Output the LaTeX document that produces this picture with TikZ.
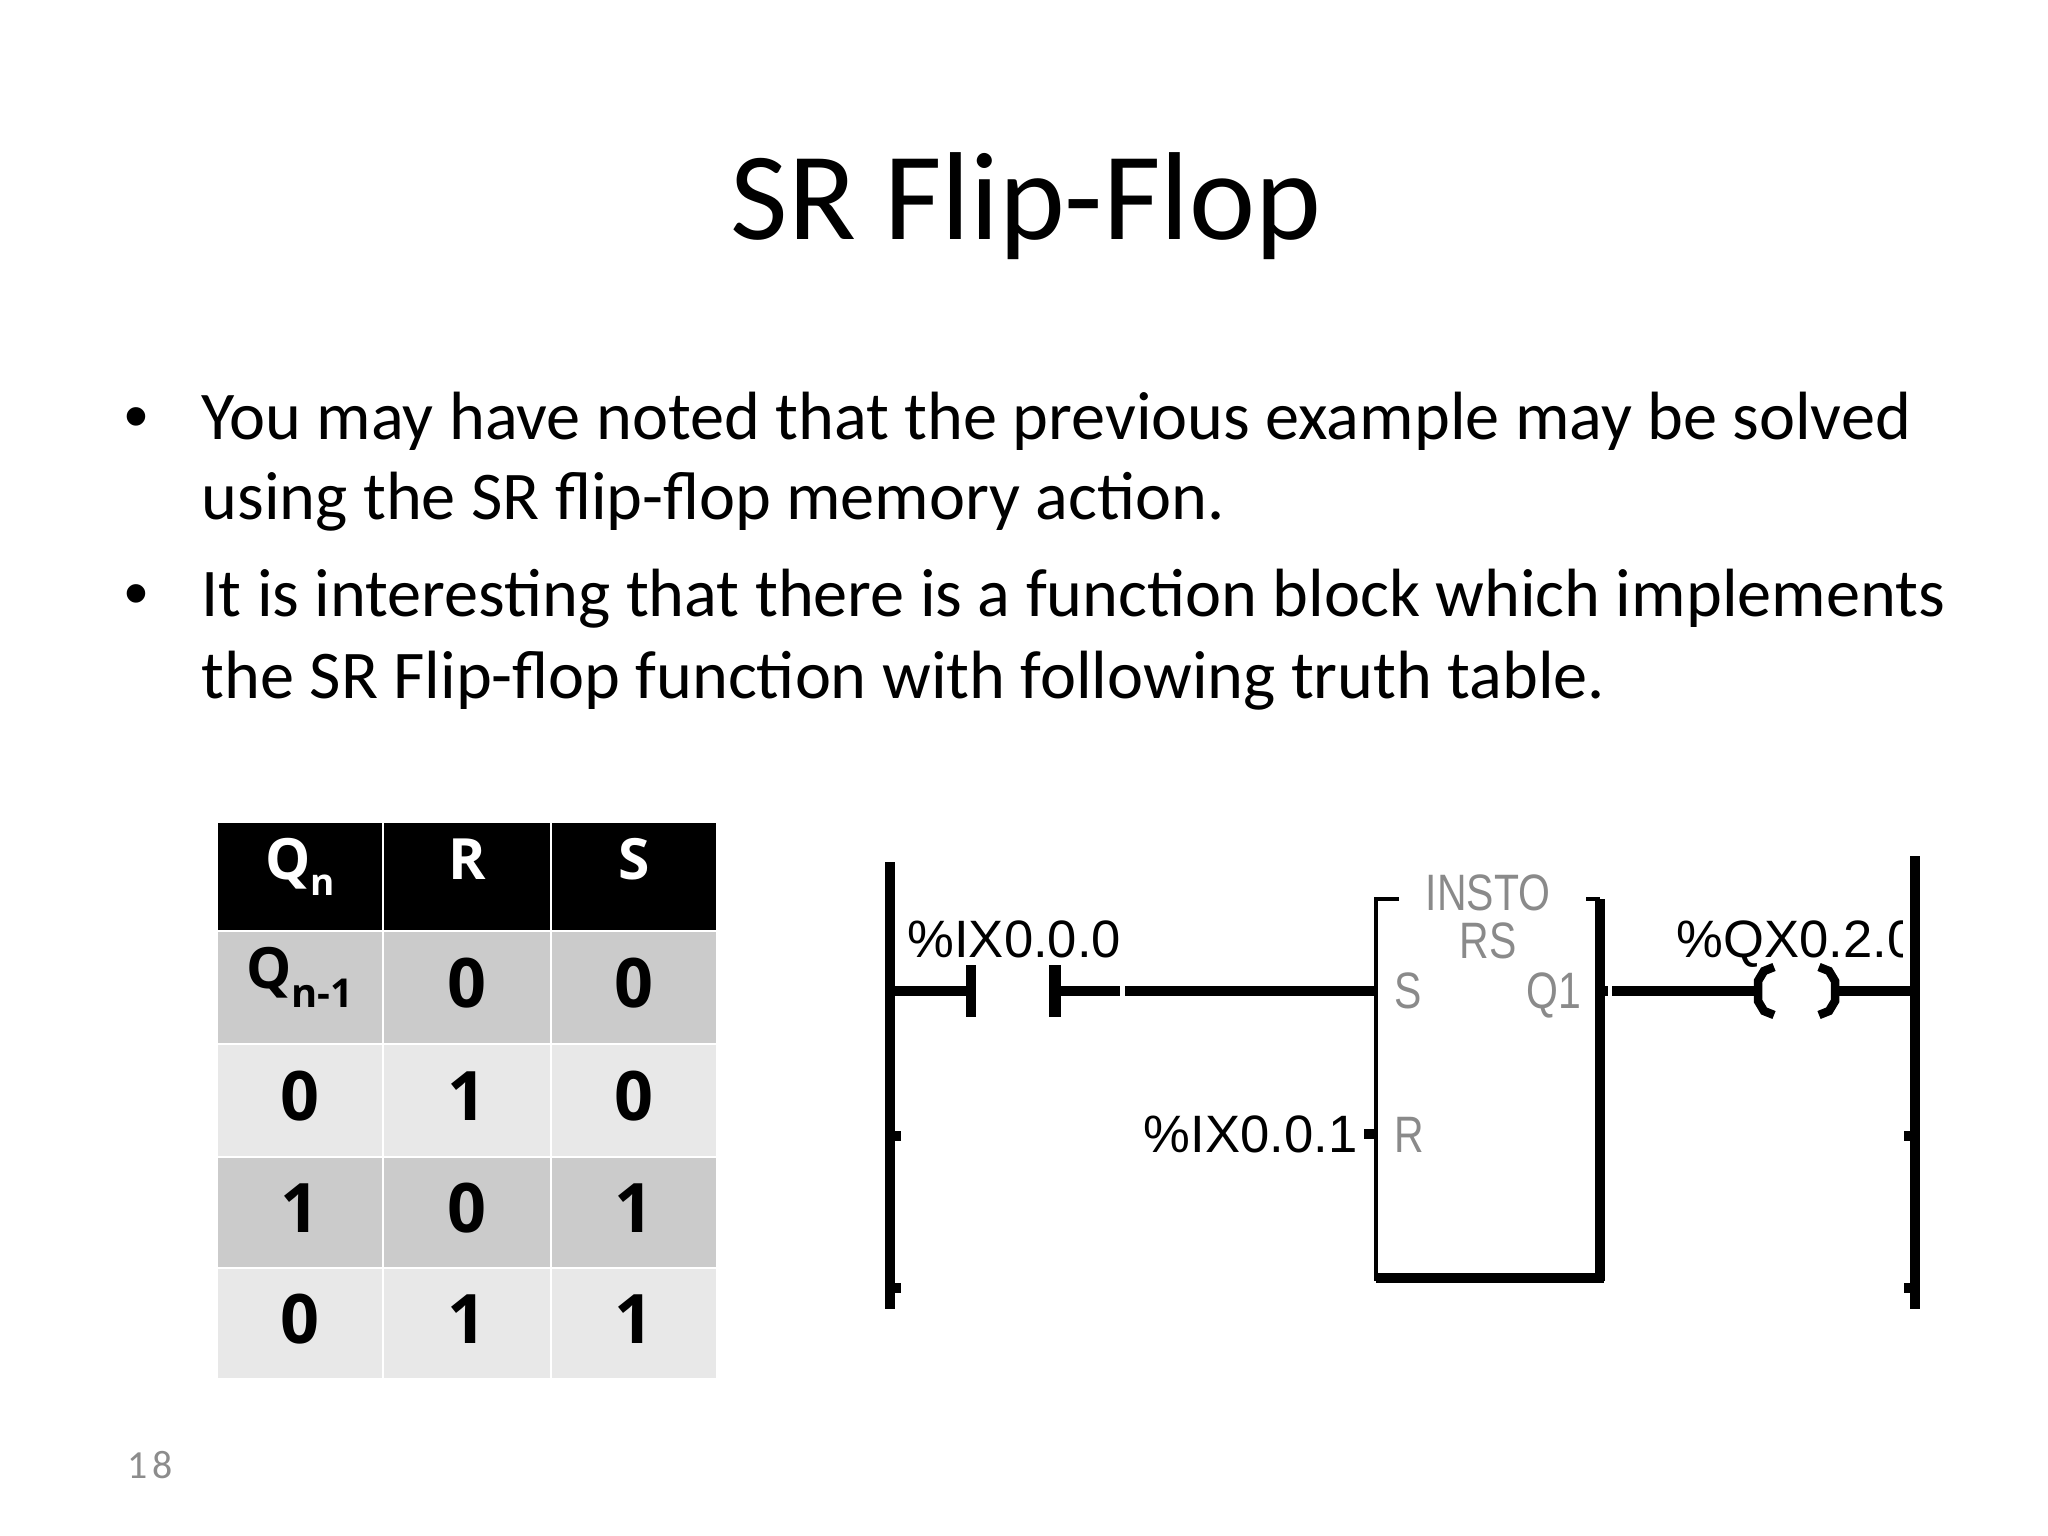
\documentclass[tikz,border=0pt]{standalone}
\usepackage{fontspec}
\setmainfont{Carlito}
\newfontfamily\tablefont{Open Sans}
\newfontfamily\ladderfont{Liberation Sans}
\newfontfamily\blockfont[FakeStretch=0.8]{Liberation Sans}
\usetikzlibrary{positioning,calc}
\definecolor{rowdark}{HTML}{CBCBCB}
\definecolor{rowlight}{HTML}{E8E8E8}
\definecolor{pingray}{HTML}{8A8A8A}
\definecolor{numgray}{HTML}{8C8C8C}

\begin{document}
\begin{tikzpicture}[x=0.3515625pt, y=-0.3515625pt,
    body/.style={font=\fontsize{24}{28}\selectfont, anchor=base west, inner sep=0pt},
    bullet/.style={font=\ladderfont\fontsize{24}{28}\selectfont, anchor=base west, inner sep=0pt},
    head/.style={font=\tablefont\bfseries\fontsize{20}{20}\selectfont, anchor=base, inner sep=0pt, text=white},
    cell/.style={font=\tablefont\bfseries\fontsize{24}{24}\selectfont, anchor=base, inner sep=0pt},
    rail/.style={line width=3.5pt},
    wire/.style={line width=3.8pt},
    thinline/.style={line width=1.1pt},
    lbl/.style={font=\ladderfont\fontsize{18.5}{18.5}\selectfont, inner sep=0pt},
    pin/.style={font=\blockfont\fontsize{18}{18}\selectfont, text=pingray, inner sep=0pt}]

    \useasboundingbox (0,0) rectangle (2048,1536);

    % title and bullets
    \node [font=\fontsize{44}{50}\selectfont, anchor=base, inner sep=0pt] (title) at (1026,240) {SR Flip-Flop};
    \node [bullet] (dot1) at (124,440) {•};
    \node [body] (l1) at (201,440) {You may have noted that the previous example may be solved};
    \node [body] (l2) at (201,520) {using the SR flip-flop memory action.};
    \node [bullet] (dot2) at (124,617) {•};
    \node [body] (l3) at (201,617) {It is interesting that there is a function block which implements};
    \node [body] (l4) at (201,699) {the SR Flip-flop function with following truth table.};
    \node [font=\fontsize{14}{14}\selectfont, text=numgray, anchor=base west, inner sep=0pt] (page) at (127,1478) {1\kern1.5pt 8};

    % truth table
    \foreach \y/\h/\c in {822/109/black, 931/113/rowdark, 1044/113/rowlight, 1157/111/rowdark, 1268/111/rowlight}
        \foreach \x/\w in {217/166, 383/168, 551/166}
            \filldraw [fill=\c, draw=white, line width=1pt] (\x,\y) rectangle ++(\w,\h);
    \node [head] (hq) at (300,879) {Q\raisebox{-5.8pt}{\fontsize{13}{13}\selectfont n}};
    \node [head] (hr) at (467,879) {R};
    \node [head] (hs) at (634,879) {S};
    \node [cell, font=\tablefont\bfseries\fontsize{20}{20}\selectfont] (qprev) at (300,988) {Q\raisebox{-6.7pt}{\fontsize{14}{14}\selectfont n-1}};
    \foreach \v/\x/\y [count=\i] in {0/467/1007, 0/634/1007,
                                     0/300/1120, 1/467/1120, 0/634/1120,
                                     1/300/1232, 0/467/1232, 1/634/1232,
                                     0/300/1343, 1/467/1343, 1/634/1343}
        \node [cell] (c\i) at (\x,\y) {\v};

    % ladder rails
    \coordinate (lrt) at (890,862);
    \coordinate (lrb) at (890,1309);
    \coordinate (rrt) at (1915,856);
    \coordinate (rrb) at (1915,1309);
    \draw [rail] (lrt) -- (lrb);
    \draw [rail] (rrt) -- (rrb);
    \foreach \y in {1136,1288} {
        \fill (893,\y-5) rectangle (901,\y+5);
        \fill (1904,\y-5) rectangle (1912,\y+5);
    }

    % contact on S input
    \coordinate (lr1) at (890,991);
    \coordinate (ca) at (971,991);
    \coordinate (cb) at (1055,991);
    \coordinate (gapa) at (1120,991);
    \coordinate (gapb) at (1125,991);
    \coordinate (sin) at (1376,991);
    \draw [wire] (lr1) -- (ca);
    \draw [rail] ($(ca)+(0,-26)$) -- ($(ca)+(0,26)$);
    \draw [line width=4.2pt] ($(cb)+(0,-26)$) -- ($(cb)+(0,26)$);
    \draw [wire] (cb) -- (gapa);
    \draw [wire] (gapb) -- (sin);
    \node [lbl, anchor=base west] (in0) at (907,957) {\%IX0.0.0};

    % RS block
    \coordinate (bxtl) at (1376,899);
    \coordinate (bxbl) at (1376,1281);
    \coordinate (bxtr) at (1600,899);
    \coordinate (bxbr) at (1600,1281);
    \draw [thinline] (1399,899) -- (bxtl) -- (bxbl);
    \draw [thinline] (1586,899) -- (bxtr);
    \draw [line width=3.2pt] (bxtr) -- (bxbr);
    \fill (1376,1273) rectangle (1604,1283);
    \node [pin, anchor=base] (inst) at (1488,910) {INSTO};
    \node [pin, anchor=base] (type) at (1488,958) {RS};
    \node [pin, anchor=base west] (ps) at (1394,1008) {S};
    \node [pin, anchor=base east] (pq) at (1582,1008) {Q1};
    \node [pin, anchor=base west] (pr) at (1394,1152) {R};

    % R input
    \coordinate (rin) at (1376,1134);
    \node [lbl, anchor=base east] (in1) at (1358,1152) {\%IX0.0.1};
    \draw [wire] (1364,1134) -- (rin);

    % output coil
    \coordinate (qout) at (1604,991);
    \coordinate (coila) at (1758,991);
    \coordinate (coilb) at (1835,991);
    \coordinate (rr1) at (1915,991);
    \draw [wire] (qout) -- ++(4,0);
    \draw [wire] (1612,991) -- (coila);
    \draw [line width=3pt] (1774,967) -- (1764,971) -- (1758,981) -- (1758,1001) -- (1764,1011) -- (1774,1015);
    \draw [line width=3pt] (1819,967) -- (1829,971) -- (1835,981) -- (1835,1001) -- (1829,1011) -- (1819,1015);
    \draw [wire] (coilb) -- (rr1);
    \begin{scope}
        \clip (1660,895) rectangle (1902,985);
        \node [lbl, anchor=base west] (out0) at (1676,957) {\%QX0.2.0};
    \end{scope}
\end{tikzpicture}
\end{document}
